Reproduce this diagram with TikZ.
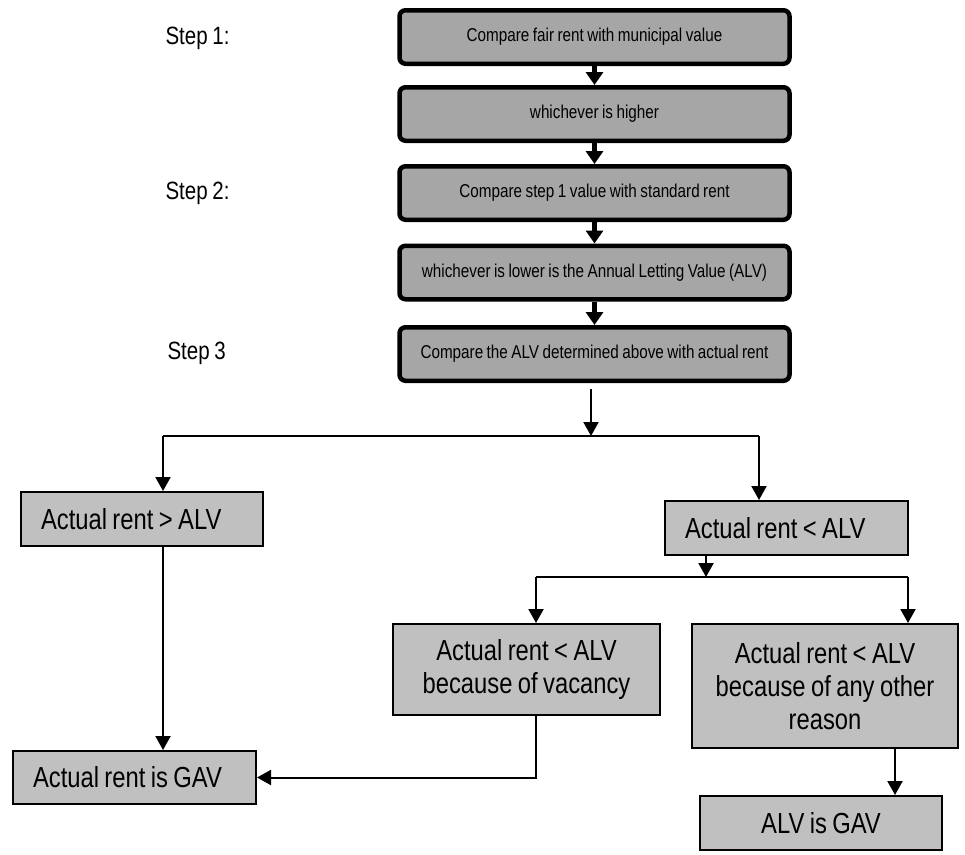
\documentclass[tikz,border=0pt]{standalone}
\usepackage{fontspec}
\setmainfont{Liberation Sans}[FakeStretch=0.82,WordSpace=0.82]
\usepackage{xcolor}
\usetikzlibrary{positioning,arrows.meta}
\definecolor{topgray}{RGB}{166,166,166}
\definecolor{lowgray}{RGB}{192,192,192}

\begin{document}
\begin{tikzpicture}[x=1pt,y=-1pt,
  stepbox/.style={draw,line width=4.5pt,rounded corners=6pt,fill=topgray,
    minimum width=390pt,minimum height=53.5pt,font=\fontsize{18.6}{22}\selectfont},
  lowbox/.style={draw,line width=2pt,fill=lowgray,align=center,inner sep=0pt,
    font=\fontsize{29}{33}\selectfont},
  leftbox/.style={lowbox,align=flush left,inner xsep=20pt,text width=#1},
  steplabel/.style={anchor=west,font=\fontsize{25}{30}\selectfont},
  toparrow/.style={line width=4.5pt,-{Triangle[width=17pt,length=13pt]}},
  lowarrow/.style={line width=2pt,-{Triangle[width=15pt,length=14pt]}},
  lowline/.style={line width=2pt}]
\useasboundingbox (0,0) rectangle (965,854);

% step labels
\node[steplabel] (step1) at (162,38) {Step 1:};
\node[steplabel] (step2) at (162,193) {Step 2:};
\node[steplabel] (step3) at (164,353) {Step 3};

% upper column
\node[stepbox] (fairrent) at (594.5,37) {Compare fair rent with municipal value};
\node[stepbox] (higher) at (594.5,114) {whichever is higher};
\node[stepbox] (stdrent) at (594.5,193) {Compare step 1 value with standard rent};
\node[stepbox] (alv) at (594.5,272.5) {whichever is lower is the Annual Letting Value (ALV)};
\node[stepbox] (actual) at (594.5,354) {Compare the ALV determined above with actual rent};

\draw[toparrow] (fairrent) -- (higher);
\draw[toparrow] (higher) -- (stdrent);
\draw[toparrow] (stdrent) -- (alv);
\draw[toparrow] (alv) -- (actual);

% lower part
\node[leftbox=202pt,minimum height=54pt] (more) at (142,519) {Actual rent > ALV};
\node[leftbox=203pt,minimum height=54pt] (less) at (786.5,528) {Actual rent < ALV};
\node[lowbox,minimum width=267pt,minimum height=91pt] (vacancy) at (526.5,669.5)
  {Actual rent < ALV\\because of vacancy};
\node[lowbox,minimum width=266pt,minimum height=124pt] (other) at (825,686)
  {Actual rent < ALV\\because of any other\\reason};
\node[leftbox=203pt,minimum height=53pt] (gav) at (134.5,777.5) {Actual rent is GAV};
\node[lowbox,minimum width=242pt,minimum height=54pt] (alvgav) at (821,823) {ALV is GAV};

\coordinate (split) at (591,436);
\coordinate (splitL) at (163,436);
\coordinate (splitR) at (759,436);
\coordinate (split2) at (706,577);
\coordinate (splitV) at (536,577);
\coordinate (splitO) at (908,577);
\coordinate (dropR) at (895,800);

\draw[lowarrow,shorten <=6pt] (actual.south -| split) -- (split);
\draw[lowline] (splitL) -- (splitR);
\draw[lowarrow] (splitL) -- (splitL |- more.north);
\draw[lowarrow] (splitR) -- (splitR |- less.north);
\draw[lowarrow] (more.south -| splitL) -- (gav.north -| splitL);

\draw[lowarrow] (less.south -| split2) -- (split2);
\draw[lowline] (splitV) -- (splitO);
\draw[lowarrow] (splitV) -- (splitV |- vacancy.north);
\draw[lowarrow] (splitO) -- (splitO |- other.north);
\draw[lowarrow] (vacancy.south -| splitV) |- (gav.east);
\draw[lowarrow] (other.south -| dropR) -- (alvgav.north -| dropR);
\end{tikzpicture}
\end{document}
